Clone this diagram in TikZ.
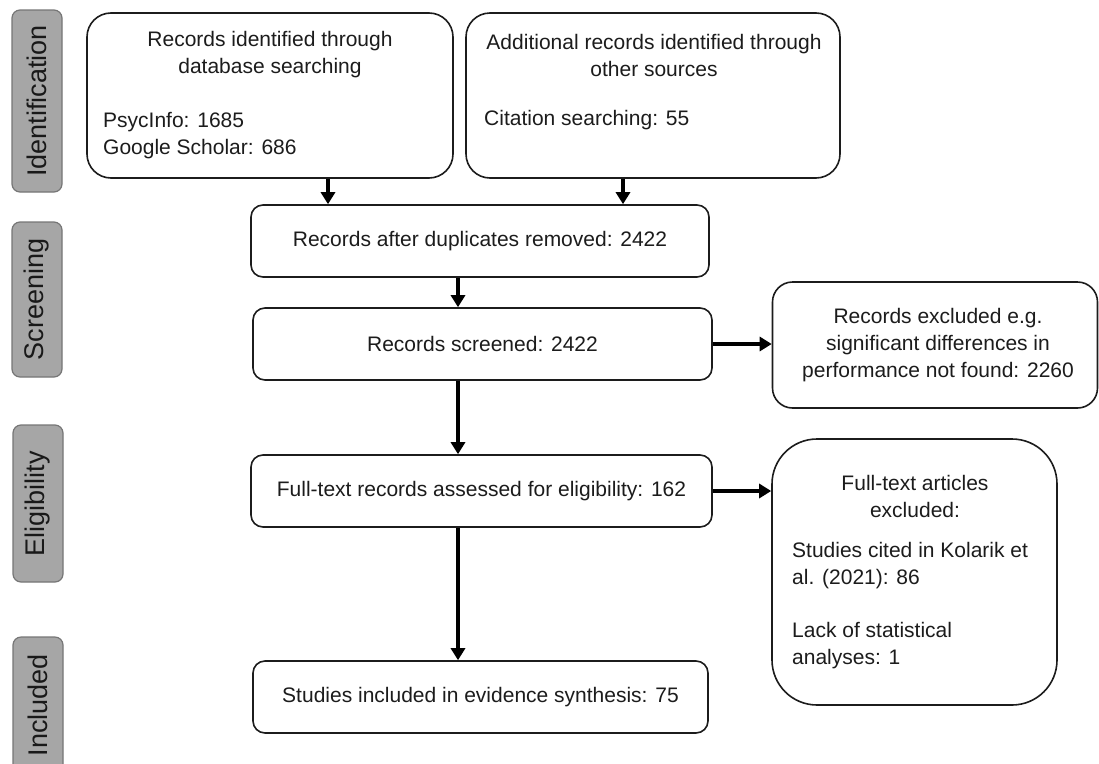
\documentclass[tikz,border=0pt]{standalone}
\usepackage{fontspec}
\setmainfont{Liberation Sans}
\usetikzlibrary{arrows.meta,calc}
\definecolor{phasefill}{RGB}{166,166,166}
\definecolor{phasedraw}{RGB}{118,118,118}
\definecolor{ink}{RGB}{28,28,28}
\begin{document}
\begin{tikzpicture}[x=1pt,y=-1pt,
  box/.style={draw=ink, line width=1.6pt, fill=white, inner sep=0pt, text=ink,
    font=\fontsize{21}{27}\selectfont},
  txt/.style={inner sep=0pt, text=ink, font=\fontsize{21}{27}\selectfont},
  phase/.style={draw=phasedraw, fill=phasefill, line width=1.2pt, rounded corners=8pt,
    rotate=90, minimum height=50pt, inner sep=0pt, text=black!90,
    font=\fontsize{27}{30}\selectfont},
  arr/.style={draw=black, line width=3.6pt, -{Triangle[length=12pt,width=14pt]}}
]
\useasboundingbox (0,0) rectangle (1099,763);
\clip (0,0) rectangle (1099,763);

% phase labels
\node[phase, minimum width=182pt] (pid) at (37,101) {Identification};
\node[phase, minimum width=155pt] (pscr) at (37,299.5) {Screening};
\node[phase, minimum width=157pt] (pel) at (38,503.5) {Eligibility};
\node[phase, minimum width=136pt] (pinc) at (38,705) {Included};

% identification boxes
\node[box, rounded corners=24pt, minimum width=366pt, minimum height=165pt] (db) at (270,95.5) {};
\node[txt, align=center] (dbt) at (270,55) {Records identified through\\database searching};
\node[txt, align=left, anchor=west] (dbn) at (103,136) {PsycInfo: 1685\\Google Scholar: 686};

\node[box, rounded corners=24pt, minimum width=374pt, minimum height=165pt] (oth) at (653,95.5) {};
\node[txt, align=center] (otht) at (654,55) {Additional records identified through\\other sources};
\node[txt, anchor=west] (othn) at (484,120) {Citation searching: 55};

% main column
\node[box, rounded corners=12pt, minimum width=458pt, minimum height=72pt] (dup) at (480,241) {Records after duplicates removed: 2422};
\node[box, rounded corners=12pt, minimum width=459pt, minimum height=72pt] (scr) at (482.5,344) {Records screened: 2422};
\node[box, rounded corners=12pt, minimum width=461pt, minimum height=72pt] (elig) at (481.5,491) {Full-text records assessed for eligibility: 162};
\node[box, rounded corners=12pt, minimum width=455pt, minimum height=72pt] (incl) at (480.5,697) {Studies included in evidence synthesis: 75};

% exclusion boxes
\node[box, rounded corners=20pt, minimum width=325pt, minimum height=126pt] (exa) at (935,345) {};
\node[txt, align=center] (exat) at (938,345) {Records excluded e.g.\\significant differences in\\performance not found: 2260};

\node[box, rounded corners=45pt, minimum width=285pt, minimum height=266pt] (exb) at (914.5,572) {};
\node[txt, align=center] (exbt) at (915,496.5) {Full-text articles\\excluded:};
\node[txt, align=left, anchor=west] (exbn) at (792,606) {Studies cited in Kolarik et\\al. (2021): 86\\[26pt]Lack of statistical\\analyses: 1};

% connectors
\draw[arr] ([xshift=58pt]db.south) -- ([xshift=58pt]db.south |- dup.north);
\draw[arr] ([xshift=-30pt]oth.south) -- ([xshift=-30pt]oth.south |- dup.north);
\draw[arr] ([xshift=-22pt]dup.south) -- ([xshift=-22pt]dup.south |- scr.north);
\draw[arr] ([xshift=-24.5pt]scr.south) -- ([xshift=-24.5pt]scr.south |- elig.north);
\draw[arr] ([xshift=-23.5pt]elig.south) -- ([xshift=-23.5pt]elig.south |- incl.north);
\draw[arr] (scr.east) -- (scr.east -| exa.west);
\draw[arr] (elig.east) -- (elig.east -| exb.west);
\end{tikzpicture}
\end{document}
